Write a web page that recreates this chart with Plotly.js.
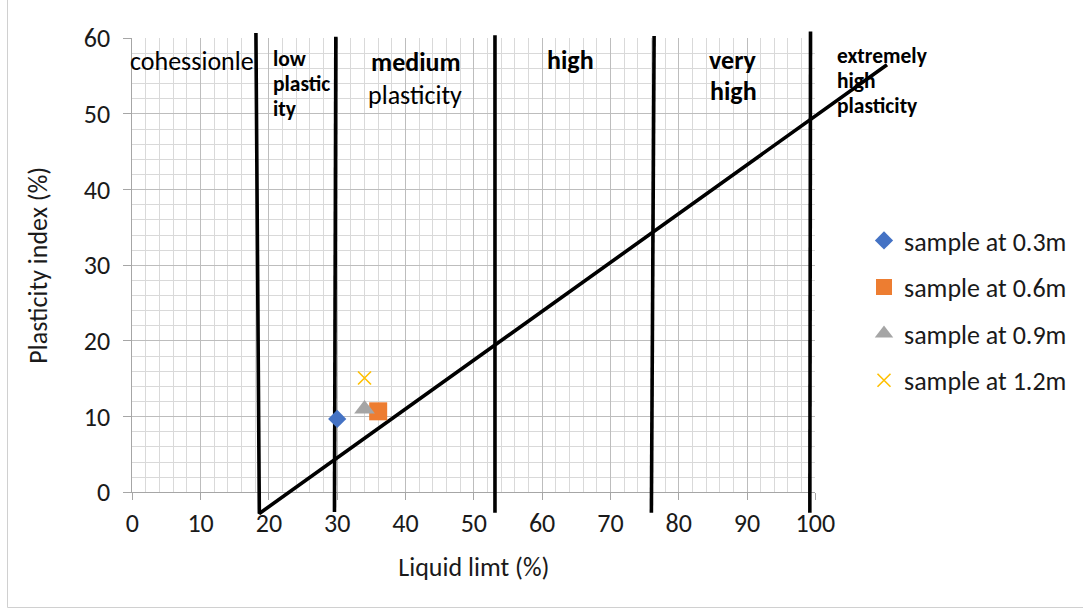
<!DOCTYPE html>
<html>
<head>
<meta charset="utf-8">
<script src="https://cdn.plot.ly/plotly-3.0.1.min.js"></script>
<style>
  html, body { margin: 0; padding: 0; background: #ffffff; }
  #chart { width: 1083px; height: 610px; }
</style>
</head>
<body>
<div id="chart"></div>
<script>
// Soil samples: liquid limit (%) against plasticity index (%)
const sampleNames = ['sample at 0.3m', 'sample at 0.6m', 'sample at 0.9m', 'sample at 1.2m'];
const liquidLimit = [30.0, 36.0, 34.0, 34.0];
const plasticityIndex = [9.7, 10.7, 11.0, 15.1];

// Plasticity zone boundaries (the first one runs into the A-line at its foot)
const boundaryLL = [[18.1, 18.6, 110.5], [29.8, 29.6], [53.1, 53.1], [76.4, 76.0], [99.3, 99.2]];
const boundaryPI = [[60.7, -2.8, 56.5], [60.2, -2.6], [60.4, -2.7], [60.3, -2.7], [60.9, -2.7]];

// Axis ticks
const llTicks = [0, 10, 20, 30, 40, 50, 60, 70, 80, 90, 100];
const piTicks = [0, 10, 20, 30, 40, 50, 60];

const markerStyles = [
  { symbol: 'diamond', size: 14, color: '#4472C4' },
  { symbol: 'square', size: 18, color: '#ED7D31' },
  { symbol: 'triangle-up', size: 18, color: '#A5A5A5' },
  { symbol: 'x-thin', size: 13, color: '#FFC000', line: { color: '#FFC000', width: 1.6 } }
];

const FONT = 'Carlito, Calibri, Lato, sans-serif';
const TEXT = '#1a1a1a';
const FS = 26;      // main text size
const FS_SMALL = 21.5;

// Pixel geometry of the chart grid: both subplots share one scale
const W = 1083, H = 610;
const X0PX = 132.3, PXX = 6.83;
const Y0PX = 492.3, PXY = 7.567;
const xdom = (a, b) => [(X0PX + a * PXX) / W, (X0PX + b * PXX) / W];
const ydom = (a, b) => [(H - (Y0PX - a * PXY)) / H, (H - (Y0PX - b * PXY)) / H];
const DATA_X = [-3, 116], DATA_Y = [-5, 63];

const traces = [];
// empty trace that keeps the gridded subplot on the page
traces.push({ type: 'scatter', mode: 'markers', x: [], y: [], xaxis: 'x', yaxis: 'y', showlegend: false, hoverinfo: 'skip' });

boundaryLL.forEach((xs, i) => {
  traces.push({
    type: 'scatter', mode: 'lines', x: xs, y: boundaryPI[i],
    xaxis: 'x2', yaxis: 'y2', showlegend: false, hoverinfo: 'skip',
    line: { color: '#000000', width: 3.6 }
  });
});
sampleNames.forEach((name, i) => {
  const st = markerStyles[i];
  traces.push({
    type: 'scatter', mode: 'markers', name: name,
    x: [liquidLimit[i]], y: [plasticityIndex[i]],
    xaxis: 'x2', yaxis: 'y2', legendgroup: 'g' + i, cliponaxis: false,
    marker: { symbol: st.symbol, size: st.size, color: st.color, line: st.line || { width: 0 } }
  });
});

function label(text, x, y, opts) {
  opts = opts || {};
  return {
    text: opts.bold ? '<b>' + text + '</b>' : text,
    x: x, y: y, xref: 'x2', yref: 'y2', showarrow: false,
    xanchor: opts.anchor || 'center', yanchor: 'middle',
    font: { family: FONT, size: opts.size || FS, color: '#000000' }
  };
}

const annotations = [
  label('cohessionle', -0.7, 57.0, { anchor: 'left' }),
  label('low', 20.3, 57.3, { bold: true, size: FS_SMALL, anchor: 'left' }),
  label('plastic', 20.3, 53.9, { bold: true, size: FS_SMALL, anchor: 'left' }),
  label('ity', 20.3, 50.6, { bold: true, size: FS_SMALL, anchor: 'left' }),
  label('medium', 41.5, 56.9, { bold: true }),
  label('plasticity', 41.4, 52.5),
  label('high', 64.1, 57.1, { bold: true }),
  label('very', 88.0, 57.1, { bold: true }),
  label('high', 88.0, 53.0, { bold: true }),
  label('extremely', 102.9, 57.6, { bold: true, size: FS_SMALL, anchor: 'left' }),
  label('high', 102.9, 54.3, { bold: true, size: FS_SMALL, anchor: 'left' }),
  label('plasticity', 102.9, 51.0, { bold: true, size: FS_SMALL, anchor: 'left' })
];

const layout = {
  width: W, height: H,
  margin: { l: 0, r: 0, t: 0, b: 0, pad: 0 },
  paper_bgcolor: '#ffffff',
  plot_bgcolor: 'rgba(0,0,0,0)',
  font: { family: FONT, size: FS, color: TEXT },
  showlegend: true,
  legend: {
    x: 864 / W, y: 1 - 217 / H, xanchor: 'left', yanchor: 'top',
    bgcolor: 'rgba(0,0,0,0)', borderwidth: 0,
    font: { family: FONT, size: FS, color: TEXT },
    tracegroupgap: 9.8, itemclick: false
  },
  xaxis: {
    domain: xdom(0, 100), range: [0, 100], anchor: 'y',
    tickmode: 'array', tickvals: llTicks, ticktext: llTicks.map(String),
    showgrid: true, gridcolor: '#bdbdbd', gridwidth: 1,
    minor: { dtick: 2, showgrid: true, gridcolor: '#d9d9d9', gridwidth: 1 },
    showline: true, linecolor: '#a6a6a6', linewidth: 1,
    ticks: 'outside', ticklen: 7, tickcolor: '#a6a6a6',
    tickfont: { family: FONT, size: FS, color: TEXT },
    zeroline: false, fixedrange: true,
    title: { text: 'Liquid limt (%)', font: { family: FONT, size: FS, color: TEXT }, standoff: 20 }
  },
  yaxis: {
    domain: ydom(0, 60), range: [0, 60], anchor: 'x',
    tickmode: 'array', tickvals: piTicks, ticktext: piTicks.map(String),
    showgrid: true, gridcolor: '#bdbdbd', gridwidth: 1,
    minor: { dtick: 2, showgrid: true, gridcolor: '#d9d9d9', gridwidth: 1 },
    showline: true, linecolor: '#a6a6a6', linewidth: 1,
    ticks: 'outside', ticklen: 8, tickcolor: '#a6a6a6',
    tickfont: { family: FONT, size: FS, color: TEXT },
    ticklabelstandoff: 8,
    zeroline: false, fixedrange: true,
    title: { text: 'Plasticity index (%)', font: { family: FONT, size: FS, color: TEXT }, standoff: 28 }
  },
  xaxis2: { domain: xdom(DATA_X[0], DATA_X[1]), range: DATA_X, anchor: 'y2', visible: false, fixedrange: true },
  yaxis2: { domain: ydom(DATA_Y[0], DATA_Y[1]), range: DATA_Y, anchor: 'x2', visible: false, fixedrange: true },
  annotations: annotations,
  shapes: [{
    type: 'rect', xref: 'paper', yref: 'paper',
    x0: 7.5 / W, x1: 1.05, y0: 1 - 607.5 / H, y1: 1.05,
    line: { color: '#d0d0d0', width: 1 }, fillcolor: 'rgba(0,0,0,0)'
  }]
};

Plotly.newPlot('chart', traces, layout, { staticPlot: true, displayModeBar: false });
</script>
</body>
</html>
